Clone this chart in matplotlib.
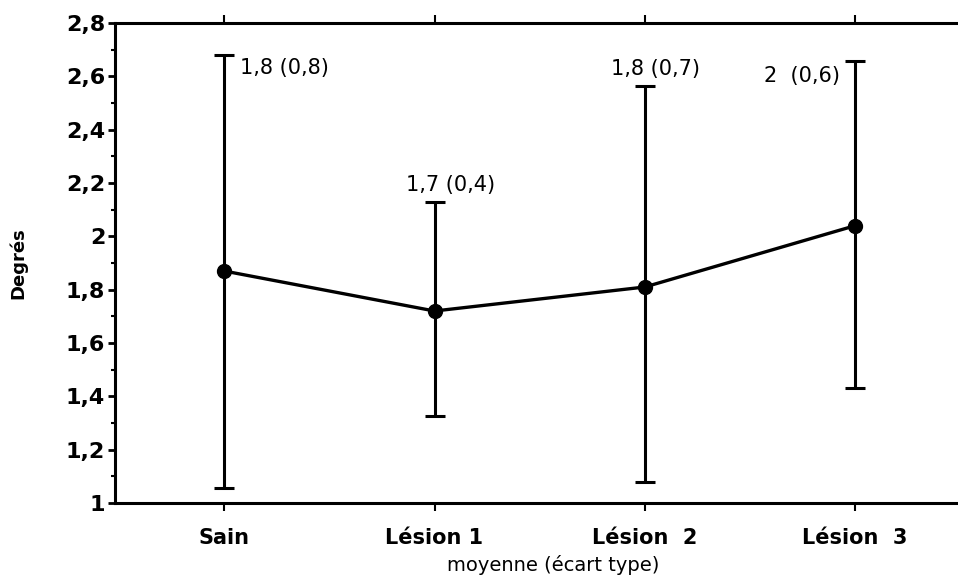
import matplotlib
matplotlib.use("Agg")
import matplotlib.pyplot as plt
from matplotlib.ticker import MultipleLocator, FixedLocator

categories = ["Sain", "Lésion 1", "Lésion  2", "Lésion  3"]
means = [1.87, 1.72, 1.81, 2.04]
upper = [2.68, 2.13, 2.565, 2.66]
lower = [1.055, 1.325, 1.08, 1.43]
annotations = ["1,8 (0,8)", "1,7 (0,4)", "1,8 (0,7)", "2  (0,6)"]
yticks = [1.0, 1.2, 1.4, 1.6, 1.8, 2.0, 2.2, 2.4, 2.6, 2.8]
ytick_labels = ["1", "1,2", "1,4", "1,6", "1,8", "2", "2,2", "2,4", "2,6", "2,8"]

plt.rcParams['font.family'] = ['DejaVu Sans']

fig = plt.figure(figsize=(9.58, 5.8), dpi=100)
ax = fig.add_axes([0.120, 0.133, 0.880, 0.827])

x = list(range(len(categories)))
yerr = [[m - l for m, l in zip(means, lower)], [u - m for m, u in zip(means, upper)]]
ax.errorbar(x, means, yerr=yerr, fmt='-', color='black', lw=2.4,
            elinewidth=2.2, capsize=7, capthick=2.2, marker='o', markersize=10)

ax.set_xlim(-0.52, 3.49)
ax.set_ylim(1.0, 2.8)

ax.yaxis.set_major_locator(FixedLocator(yticks))
ax.set_yticklabels(ytick_labels, fontsize=16, fontweight='bold')
ax.yaxis.set_minor_locator(MultipleLocator(0.1))
ax.set_xticks(x)
ax.set_xticklabels(categories, fontsize=15, fontweight='semibold')

ax.tick_params(axis='y', which='major', direction='out', length=5, width=2, pad=2)
ax.tick_params(axis='y', which='minor', direction='out', length=3, width=1.5)
ax.tick_params(axis='x', which='major', direction='out', length=6, width=1.5, pad=12,
               top=True)

for s in ['left', 'bottom', 'top']:
    ax.spines[s].set_linewidth(2.2)
ax.spines['right'].set_visible(False)

ax.set_ylabel("Degrés", fontsize=13, fontweight='bold', labelpad=28)
fig.text(0.577, 0.026, "moyenne (écart type)", fontsize=14, ha='center', va='center')

# annotations
ax.annotate(annotations[0], (x[0], upper[0]), xytext=(11, -2), textcoords='offset points',
            ha='left', va='top', fontsize=15)
ax.annotate(annotations[1], (x[1], upper[1]), xytext=(11.5, 5), textcoords='offset points',
            ha='center', va='bottom', fontsize=15)
ax.annotate(annotations[2], (x[2], upper[2]), xytext=(8, 5), textcoords='offset points',
            ha='center', va='bottom', fontsize=15)
ax.annotate(annotations[3], (x[3], upper[3]), xytext=(-11, -4), textcoords='offset points',
            ha='right', va='top', fontsize=15)

fig.savefig("out.png", dpi=100)
